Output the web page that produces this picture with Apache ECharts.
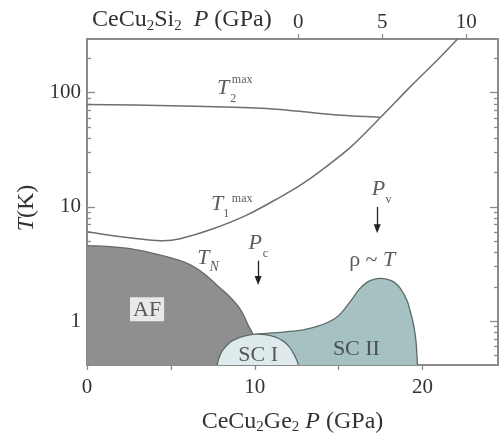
<!DOCTYPE html>
<html>
<head>
<meta charset="utf-8">
<script src="https://cdn.jsdelivr.net/npm/echarts@6/dist/echarts.min.js"></script>
<style>
  html, body { margin: 0; padding: 0; background: #fff; }
  #chart { width: 499px; height: 440px; }
</style>
</head>
<body>
<div id="chart"></div>
<script>
// CeCu2Ge2 pressure (GPa) vs T (K), log scale
const afBoundary = [[0, 4.58], [1.37, 4.49], [2.57, 4.31], [3.76, 3.98], [4.96, 3.6], [5.73, 3.32], [6.45, 2.95], [7.04, 2.56], [7.76, 2.06], [8.36, 1.72], [8.96, 1.38], [9.31, 1.15], [9.61, 0.92], [9.85, 0.79], [10.03, 0.64], [10.15, 0.414]];
const sc2Dome = [[9.3, 0.414], [9.45, 0.7], [9.9, 0.76], [10.5, 0.78], [11.5, 0.8], [12.7, 0.83], [13.7, 0.9], [14.3, 0.97], [14.8, 1.06], [15.2, 1.2], [15.7, 1.49], [16.2, 1.88], [16.7, 2.2], [17.1, 2.33], [17.5, 2.37], [17.9, 2.32], [18.3, 2.2], [18.7, 1.92], [19.1, 1.49], [19.35, 1.1], [19.5, 0.88], [19.62, 0.65], [19.7, 0.414]];
const sc1Dome = [[7.76, 0.414], [7.85, 0.47], [8.06, 0.55], [8.4, 0.63], [8.7, 0.68], [9.2, 0.73], [9.7, 0.76], [10.15, 0.77], [10.6, 0.765], [11.2, 0.73], [11.7, 0.67], [12.05, 0.6], [12.35, 0.51], [12.52, 0.45], [12.6, 0.414]];
const t1maxCurve = [[0, 6.06], [1.55, 5.6], [3.58, 5.17], [4.54, 5.06], [5.55, 5.27], [7.52, 6.44], [9.55, 8.52], [11.52, 12.2], [12.72, 15.5], [13.91, 20.6], [15.7, 33.2], [17.49, 60.6], [19.28, 113], [20.9, 194], [22.09, 295]];
const t2maxCurve = [[0, 78.7], [5, 77], [9.7, 74], [11.7, 71], [14.7, 64], [17.45, 61]];

const bottomTicks = [0, 5, 10, 15, 20];
const bottomLabels = [0, 10, 20];
const topTicks = [0, 5, 10]; // CeCu2Si2 pressure
const siOffset = 12.6;       // CeCu2Si2 P = CeCu2Ge2 P - 12.6
const yMajor = [1, 10, 100];
const yMinor = [0.5, 0.6, 0.7, 0.8, 0.9, 2, 3, 4, 5, 6, 7, 8, 9, 20, 30, 40, 50, 60, 70, 80, 90, 200];

const xMax = 24.5, yMin = 0.414, yMax = 295;
const serif = 'Liberation Serif';
const ink = '#333';
const lineCol = '#6e6e6e';
const axisCol = '#8a8a8a';

const rich = {
  i: { fontFamily: serif, fontStyle: 'italic', fontSize: 22, color: ink },
  n: { fontFamily: serif, fontSize: 22, color: ink },
  I: { fontFamily: serif, fontStyle: 'italic', fontSize: 24, color: ink },
  N: { fontFamily: serif, fontSize: 24, color: ink },
  s: { fontFamily: serif, fontSize: 15, color: ink, padding: [12, 0, 0, 0] }
};

function note(x, t, text, size, style) {
  return {
    value: [x, t],
    label: Object.assign({ show: true, position: 'inside', formatter: text, fontFamily: serif, fontSize: size || 22, color: ink, rich: rich }, style || {})
  };
}

const notes = [
  note(8.12, 110.5, '{i|T}'),
  note(9.25, 130, 'max', 12),
  note(8.72, 88.7, '2', 12),
  note(7.76, 10.6, '{i|T}'),
  note(9.25, 11.7, 'max', 12),
  note(8.3, 8.7, '1', 12),
  note(6.93, 3.53, '{i|T}'),
  note(7.58, 2.95, 'N', 14, { fontStyle: 'italic' }),
  note(10.03, 4.86, '{i|P}'),
  note(10.63, 3.9, 'c', 12),
  note(17.37, 14.3, '{i|P}'),
  note(17.97, 11.5, 'v', 12),
  note(17.0, 3.39, '{n|ρ ~ }{i|T}'),
  note(3.58, 1.27, 'AF', 22, { backgroundColor: '#fff', padding: [2, 3, 0, 3] }),
  note(10.2, 0.506, 'SC I'),
  note(16.06, 0.57, 'SC II')
];

const arrows = [
  [{ coord: [10.2, 3.39] }, { coord: [10.2, 2.27] }],
  [{ coord: [17.3, 10.0] }, { coord: [17.3, 6.44] }]
];

function area(name, data, fill, z) {
  return {
    name: name, type: 'line', data: data, smooth: 0.2, symbol: 'none', z: z,
    lineStyle: { color: '#5e6a6a', width: 1.3 },
    areaStyle: { color: fill, opacity: 1, origin: 'start' },
    silent: true
  };
}

function curve(name, data) {
  return {
    name: name, type: 'line', data: data, smooth: 0.3, symbol: 'none', z: 6,
    lineStyle: { color: lineCol, width: 1.5 }, silent: true
  };
}

function logAxis(pos, values, len, labels) {
  return {
    type: 'log', position: pos, min: yMin, max: yMax, logBase: 10,
    axisLine: { show: true, onZero: false, lineStyle: { color: axisCol, width: 2 } },
    axisTick: { show: true, inside: true, length: len, customValues: values, lineStyle: { color: axisCol, width: 1.3 } },
    axisLabel: labels ? { show: true, customValues: yMajor, fontFamily: serif, fontSize: 21, color: ink, margin: 6, formatter: v => String(v) } : { show: false },
    splitLine: { show: false }
  };
}

const chart = echarts.init(document.getElementById('chart'), null, { renderer: 'canvas' });
chart.setOption({
  animation: false,
  backgroundColor: '#fff',
  grid: { left: 87, right: 1, top: 39, bottom: 73 },
  xAxis: [{
    type: 'value', position: 'bottom', min: 0, max: xMax,
    name: '{N|CeCu}{s|2}{N|Ge}{s|2} {I|P} {N|(GPa)}', nameLocation: 'middle', nameGap: 43,
    nameTextStyle: { fontFamily: serif, fontSize: 24, color: ink, rich: rich },
    axisLine: { onZero: false, lineStyle: { color: axisCol, width: 2 } },
    axisTick: { show: true, length: 5, customValues: bottomTicks, lineStyle: { color: axisCol, width: 1.3 } },
    axisLabel: { customValues: bottomLabels, fontFamily: serif, fontSize: 21, color: ink, margin: 12 },
    splitLine: { show: false }
  }, {
    type: 'value', position: 'top', min: -siOffset, max: xMax - siOffset,
    axisLine: { onZero: false, lineStyle: { color: axisCol, width: 2 } },
    axisTick: { show: true, length: 5, customValues: topTicks, lineStyle: { color: axisCol, width: 1.3 } },
    axisLabel: { customValues: topTicks, fontFamily: serif, fontSize: 21, color: ink, margin: 6 },
    splitLine: { show: false }
  }],
  yAxis: [
    Object.assign(logAxis('left', yMajor, 8, true), {
      name: '{I|T}{N|(K)}', nameLocation: 'middle', nameGap: 48, nameRotate: 90,
      nameTextStyle: { fontFamily: serif, fontSize: 24, color: ink, rich: rich, padding: [0, 12, 0, 0] }
    }),
    logAxis('left', yMinor, 4, false),
    logAxis('right', yMajor, 8, false),
    logAxis('right', yMinor, 4, false)
  ],
  graphic: [{
    type: 'text', left: 92, top: 8,
    style: {
      text: '{N|CeCu}{s|2}{N|Si}{s|2}  {I|P} {N|(GPa)}', rich: rich,
      font: '24px "Liberation Serif"', fill: ink
    }
  }],
  series: [
    area('AF', afBoundary, '#8f8f8f', 2),
    area('SC II', sc2Dome, '#a5c1c1', 3),
    area('SC I', sc1Dome, '#dfeaec', 4),
    curve('T1max', t1maxCurve),
    curve('T2max', t2maxCurve),
    {
      name: 'notes', type: 'scatter', symbolSize: 0, data: notes, silent: true, z: 8,
      markLine: {
        silent: true, symbol: ['none', 'triangle'], symbolSize: [7, 9],
        lineStyle: { color: '#222', width: 1.3, type: 'solid' },
        label: { show: false }, data: arrows
      }
    }
  ]
});
</script>
</body>
</html>
